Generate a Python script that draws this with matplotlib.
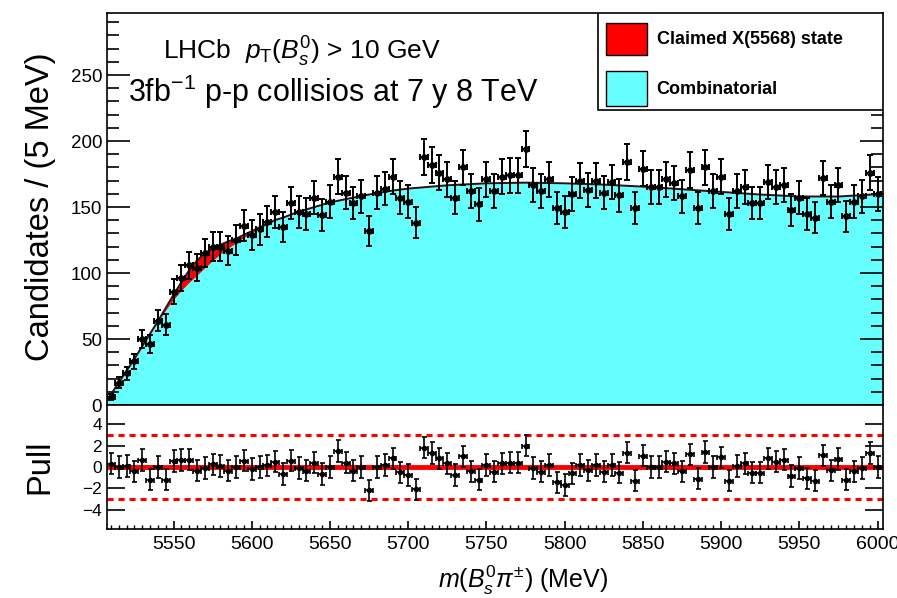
import numpy as np
import matplotlib.pyplot as plt
from matplotlib.patches import Rectangle
from matplotlib.ticker import MultipleLocator

plt.rcParams['font.family'] = ['Liberation Sans', 'DejaVu Sans']
plt.rcParams['mathtext.fontset'] = 'custom'
plt.rcParams['mathtext.rm'] = 'Liberation Sans'
plt.rcParams['mathtext.it'] = 'Liberation Sans:italic'
plt.rcParams['mathtext.bf'] = 'Liberation Sans:bold'

# bin centres of the 5 MeV histogram
mass = np.arange(5510, 6001, 5)

counts = [6, 17, 24, 33, 50, 46, 64, 61, 86, 96, 106, 104, 115, 120, 120, 117, 125, 136, 129, 133,
          139, 146, 135, 153, 146, 145, 157, 144,
          154, 173, 161, 153, 158, 132, 161, 164, 173, 157, 154, 138, 188, 182, 176, 171, 157, 180,
          162, 152, 171, 162, 173, 174, 174, 194, 167, 162, 171, 149, 146, 160, 170, 163, 170, 161,
          169, 159, 184, 149, 179, 165, 165, 171, 168, 158, 178, 149, 180, 162, 173, 145, 162, 165,
          153, 153, 169, 165, 167, 148, 157, 145, 142, 172, 154, 167, 143, 154, 158, 176, 160]

pulls = [0.3, 0, 0.1, -0.4, 0.65, -1.2, 0, -1.2, 0.55, 0.65, 0.7, -0.35, -0.1, 0.25, 0.1, -0.35, 0, 0.6,
         -0.2, 0, 0.15, 0.5, -0.65, 0.6, -0.1, -0.35, 0.4, -0.65, 0, 1.5, 0.4, -0.35, 0, -2.2, 0, 0.2,
         0.8, -0.5, -0.75, -2.1, 1.8, 1.3, 0.8, 0.35, -0.75, 1.0, -0.4, -1.2, 0.2, -0.45, 0.35, 0.4,
         0.4, 2.0, -0.1, -0.45, 0.2, -1.45, -1.7, -0.6, 0.2, -0.3, 0.2, -0.45, 0.2, -0.55, 1.35, -1.3,
         1.05, 0, 0, 0.5, 0.35, -0.4, 1.2, -1.1, 1.4, 0, 0.9, -1.3, 0.1, 0.35, -0.55, -0.55, 0.8, 0.5,
         0.7, -0.85, -0.1, -1.05, -1.3, 1.1, -0.3, 0.75, -1.2, -0.4, -0.1, 1.3, 0]

# fit curves
curve_mass = [5507.5, 5510, 5515, 5520, 5525, 5530, 5535, 5540, 5545, 5550, 5555, 5560, 5565, 5570,
              5575, 5580, 5585, 5590, 5595, 5600, 5605, 5610, 5615, 5620, 5630, 5640, 5650, 5660,
              5675, 5690, 5700, 5725, 5750, 5775, 5800, 5825, 5850, 5875, 5900, 5925, 5950, 5975, 6003.5]
bkg = [4, 8, 17, 26, 35, 44.5, 54, 63, 72, 80, 87, 93, 98.5, 104, 109.5, 114.5, 119, 123, 127,
       130.5, 134, 137, 140, 142, 146.5, 150, 153.5, 156, 159.5, 162.5, 164, 166.5, 168, 168.5, 168,
       167, 165.5, 163.5, 161.5, 159.5, 158, 158, 160]
sig = [0, 0, 0, 0, 0, 0, 0, 0.5, 1.5, 3.5, 6, 9, 11, 11, 9, 7, 5, 3, 2, 1.2, 0.6, 0.4, 0.2, 0,
       0, 0, 0, 0, 0, 0, 0, 0, 0, 0, 0, 0, 0, 0, 0, 0, 0, 0, 0]

total = np.array(bkg) + np.array(sig)

fig = plt.figure(figsize=(8.97, 5.98), dpi=100)
ax = fig.add_axes([0.1193, 0.3227, 0.8651, 0.6555])
axp = fig.add_axes([0.1193, 0.1154, 0.8651, 0.2074], sharex=ax)

ax.fill_between(curve_mass, 0, total, color='#ff0000', lw=0)
ax.fill_between(curve_mass, 0, bkg, color='#66ffff', lw=0)
ax.plot(curve_mass, total, color='#301010', lw=1.4)
ax.errorbar(mass, counts, yerr=np.sqrt(counts), xerr=2.5, fmt='o', ms=3.8, color='black',
            elinewidth=1.4, capsize=2.2, capthick=1.4, zorder=5)

ax.set_xlim(5507.5, 6003.5)
ax.set_ylim(0, 297)
ax.yaxis.set_major_locator(MultipleLocator(50))
ax.yaxis.set_minor_locator(MultipleLocator(10))
ax.tick_params(axis='y', which='both', direction='in', left=True, right=True, labelsize=13.5, width=1.2)
ax.tick_params(axis='y', which='major', length=16.5)
ax.tick_params(axis='y', which='minor', length=8.6)
ax.tick_params(axis='x', which='both', bottom=False, labelbottom=False)
ax.set_ylabel('Candidates / (5 MeV)', fontsize=23.5)
ax.yaxis.set_label_coords(-0.066, 0.505)
for s in ax.spines.values():
    s.set_linewidth(1.2)

ax.text(0.0722, 0.880, r'LHCb  $p_{\mathrm{T}}(B_s^0)$ > 10 GeV', transform=ax.transAxes,
        fontsize=19, va='baseline')
ax.text(0.0275, 0.774, r'3fb$^{-1}$ p-p collisios at 7 y 8 TeV', transform=ax.transAxes,
        fontsize=22, va='baseline')

# legend box
ax.add_patch(Rectangle((0.633, 0.7526), 0.367, 0.2474, transform=ax.transAxes, facecolor='white',
                       edgecolor='black', lw=1.2, zorder=6))
ax.add_patch(Rectangle((0.6434, 0.8929), 0.0529, 0.0824, transform=ax.transAxes, facecolor='#ff0000',
                       edgecolor='black', lw=1, zorder=7))
ax.add_patch(Rectangle((0.6434, 0.7628), 0.0529, 0.090, transform=ax.transAxes, facecolor='#66ffff',
                       edgecolor='black', lw=1, zorder=7))
ax.text(0.7084, 0.933, 'Claimed X(5568) state', transform=ax.transAxes, fontsize=13,
        fontweight='bold', va='center', zorder=8)
ax.text(0.7084, 0.805, 'Combinatorial', transform=ax.transAxes, fontsize=13,
        fontweight='bold', va='center', zorder=8)

# pull panel
axp.axhline(0, color='red', lw=3.5)
axp.axhline(3, color='red', lw=2.2, ls=(0, (2, 1.6)))
axp.axhline(-3, color='red', lw=2.2, ls=(0, (2, 1.6)))
axp.errorbar(mass, pulls, yerr=1, xerr=2.5, fmt='o', ms=3, color='black',
             elinewidth=1.2, capsize=1.8, capthick=1.2, zorder=5)
axp.set_ylim(-5.82, 5.82)
axp.set_yticks([-4, -2, 0, 2, 4])
axp.xaxis.set_major_locator(MultipleLocator(50))
axp.xaxis.set_minor_locator(MultipleLocator(5))
axp.tick_params(axis='y', which='major', direction='in', left=True, right=True, length=13,
                labelsize=12.5, width=1.2)
axp.tick_params(axis='x', which='major', direction='in', length=5.8, labelsize=14, width=1.2, pad=5)
axp.tick_params(axis='x', which='minor', direction='in', length=2.9, width=1.0)
axp.set_ylabel('Pull', fontsize=23.5)
axp.yaxis.set_label_coords(-0.066, 0.5)
axp.set_xlabel(r'$m(B_s^0\pi^{\pm})$ (MeV)', fontsize=18)
axp.xaxis.set_label_coords(0.536, -0.28)
for s in axp.spines.values():
    s.set_linewidth(1.2)

fig.savefig('out.png', dpi=100)
